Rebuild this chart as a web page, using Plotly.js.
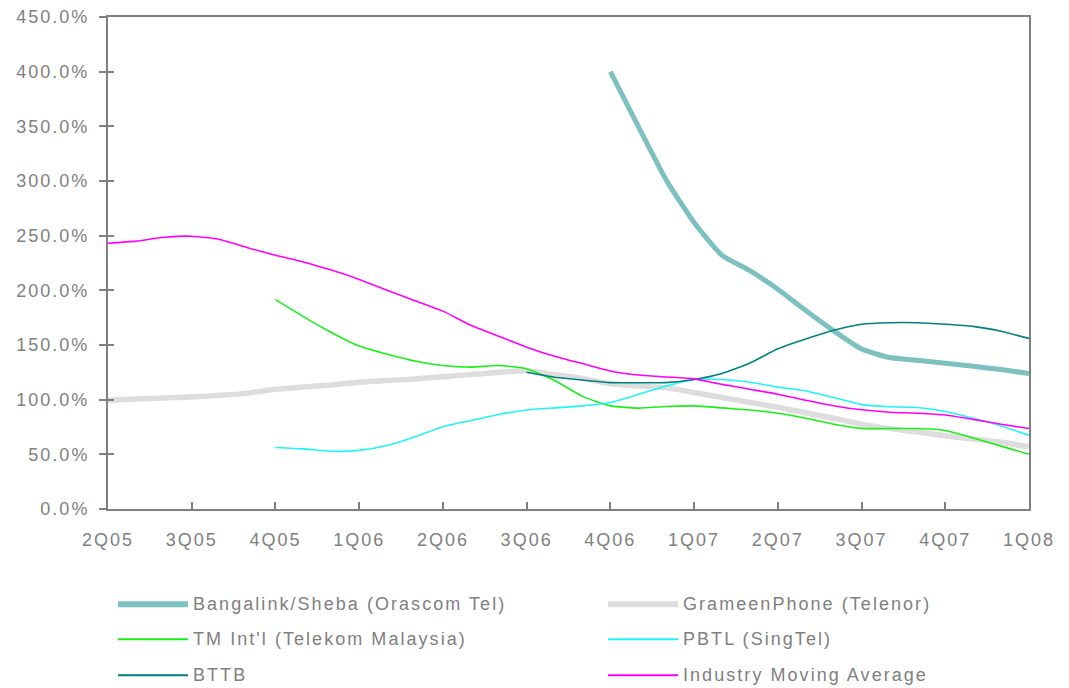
<!DOCTYPE html>
<html>
<head>
<meta charset="utf-8">
<script src="https://cdn.plot.ly/plotly-3.0.1.min.js"></script>
<style>
  html, body { margin: 0; padding: 0; background: #ffffff; }
  #chart { width: 1069px; height: 688px; }
  .xtick text, .ytick text { letter-spacing: 2px; }
  .annotation-text { letter-spacing: 2.05px; }
</style>
</head>
<body>
<div id="chart"></div>
<script>
// Month index (0 = 2Q05 ... 33 = 1Q08)
const monthIndex = [0,1,2,3,4,5,6,7,8,9,10,11,12,13,14,15,16,17,18,19,20,21,22,23,24,25,26,27,28,29,30,31,32,33];
const quarterTickVals = [0,3,6,9,12,15,18,21,24,27,30,33];
const quarterLabels = ['2Q05','3Q05','4Q05','1Q06','2Q06','3Q06','4Q06','1Q07','2Q07','3Q07','4Q07','1Q08'];
const yTickVals = [0,50,100,150,200,250,300,350,400,450];
const yTickLabels = ['0.0%','50.0%','100.0%','150.0%','200.0%','250.0%','300.0%','350.0%','400.0%','450.0%'];

const seriesNames = ['Bangalink/Sheba (Orascom Tel)','GrameenPhone (Telenor)','TM Int\'l (Telekom Malaysia)','PBTL (SingTel)','BTTB','Industry Moving Average'];

const bangalink = [null,null,null,null,null,null,null,null,null,null,null,null,null,null,null,null,null,null,
  400,350,301,262,232,218,201,181.5,163,146.3,138.5,136,133.3,130.5,127.5,124];
const grameen = [99.5,100.5,101.5,102.5,104,106,109.5,111.5,113.5,116,117.5,119,121,123,125,126.5,123,119.5,
  114.5,112.5,111,106.5,102,97.5,93,88,83,77.6,73.5,70.5,67,64,61,57];
const tmIntl = [null,null,null,null,null,null,191.5,176,161.5,149,141.6,135.4,131.3,129.8,131.2,128.3,117.5,103,
  94.3,92.3,93.8,94.3,92.5,90.5,87.6,83,77.5,73.7,73.6,73.6,71.8,65,57.5,50];
const pbtl = [null,null,null,null,null,null,56.3,55,52.8,53.6,58,66,75.3,81,86.5,90.6,92.5,94.3,
  97.4,104.8,112.5,118.5,118.5,116,111.5,108,102,95.5,93.5,92.8,89.2,83,76,67.5];
const bttb = [null,null,null,null,null,null,null,null,null,null,null,null,null,null,null,125,120.5,118,
  115.6,115.5,115.6,118.5,124,133.5,146.5,155.5,163.5,169,170.4,170.4,169,167,162.5,156];
const industryAvg = [243,245,248.5,249.5,246.5,239,232,226,218.5,210,200,190.5,181,168,158,148,139.7,133,
  126.3,122.5,120.8,119,114,109.5,105,99.5,94.5,90.7,88.5,87.6,86,82,77.5,73.6];

const seriesValues = [bangalink, grameen, tmIntl, pbtl, bttb, industryAvg];
const seriesColors = ['#7cc0c0','#dddddd','#19f019','#1ff5f5','#008080','#ff00ff'];
const seriesWidths = [5,5.5,1.6,1.6,1.6,1.6];

const traces = seriesValues.map((vals, i) => ({
  type: 'scatter', mode: 'lines', name: seriesNames[i],
  x: monthIndex, y: vals,
  line: { color: seriesColors[i], width: seriesWidths[i], shape: 'spline', smoothing: 0.5 },
  connectgaps: false, showlegend: false, hoverinfo: 'skip'
}));
// helper trace for inner half of the crossing y ticks
traces.push({ type: 'scatter', mode: 'lines', x: [null], y: [null], yaxis: 'y2', showlegend: false, hoverinfo: 'skip' });

// plot area geometry in pixels
const L = 108, R = 1029, T = 16.5, B = 509.5;
const px2paperX = p => (p - L) / (R - L);
const px2paperY = p => (B - p) / (B - T);

// custom legend (2 columns x 3 rows)
const legendRows = [605, 640, 676];
const legendCols = [{ x0: 118, x1: 188, tx: 191 }, { x0: 608, x1: 678, tx: 681 }];
const shapes = [], annotations = [];
seriesNames.forEach((name, i) => {
  const col = legendCols[i % 2], rowY = legendRows[Math.floor(i / 2)];
  shapes.push({ type: 'line', xref: 'paper', yref: 'paper',
    x0: px2paperX(col.x0), x1: px2paperX(col.x1), y0: px2paperY(rowY), y1: px2paperY(rowY),
    line: { color: seriesColors[i], width: seriesWidths[i] >= 5 ? 6 : 2 } });
  annotations.push({ xref: 'paper', yref: 'paper', x: px2paperX(col.tx), y: px2paperY(rowY),
    xanchor: 'left', yanchor: 'middle', showarrow: false, text: name,
    font: { family: 'Liberation Sans, Arial, sans-serif', size: 18, color: '#808080' } });
});

const tickFont = { family: 'Liberation Sans, Arial, sans-serif', size: 18, color: '#808080' };
const layout = {
  width: 1069, height: 688,
  margin: { l: L, r: 1069 - R, t: T, b: 688 - B, pad: 0 },
  paper_bgcolor: '#ffffff', plot_bgcolor: '#ffffff',
  showlegend: false,
  xaxis: {
    range: [0, 33], tickvals: quarterTickVals, ticktext: quarterLabels,
    ticks: 'inside', ticklen: 7, tickwidth: 2, tickcolor: '#808080',
    showline: true, linecolor: '#808080', linewidth: 2, mirror: true,
    showgrid: false, zeroline: false, tickfont: tickFont, ticklabelstandoff: 13
  },
  yaxis: {
    range: [0, 450], tickvals: yTickVals, ticktext: yTickLabels,
    ticks: 'outside', ticklen: 7, tickwidth: 2, tickcolor: '#808080',
    showline: true, linecolor: '#808080', linewidth: 2, mirror: true,
    showgrid: false, zeroline: false, tickfont: tickFont, ticklabelstandoff: 6
  },
  yaxis2: {
    overlaying: 'y', side: 'left', range: [0, 450], tickvals: yTickVals,
    ticks: 'inside', ticklen: 6, tickwidth: 2, tickcolor: '#808080',
    showticklabels: false, showline: false, showgrid: false, zeroline: false
  },
  shapes: shapes, annotations: annotations
};

Plotly.newPlot('chart', traces, layout, { staticPlot: true, displayModeBar: false });
</script>
</body>
</html>
